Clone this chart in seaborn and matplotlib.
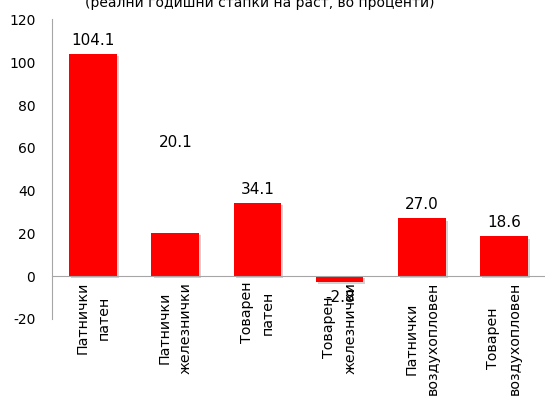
import matplotlib
matplotlib.use("Agg")
import matplotlib.pyplot as plt
import matplotlib.patheffects as pe
import seaborn as sns
import pandas as pd

# Real annual growth rates by transport type (percent)
categories = [
    "Патнички\nпатен",
    "Патнички\nжелезнички",
    "Товарен\nпатен",
    "Товарен\nжелезнички",
    "Патнички\nвоздухопловен",
    "Товарен\nвоздухопловен",
]
values = [104.1, 20.1, 34.1, -2.8, 27.0, 18.6]
y_ticks = [-20, 0, 20, 40, 60, 80, 100, 120]
subtitle = "(реални годишни стапки на раст, во проценти)"

sns.set_style("white")
plt.rcParams["font.family"] = ["DejaVu Sans"]

df = pd.DataFrame({"category": categories, "value": values})

fig = plt.figure(figsize=(5.45, 3.98), dpi=100)
ax = fig.add_axes([52 / 545, 1 - 319 / 398, 1 - 52 / 545, (319 - 19.5) / 398])

sns.barplot(data=df, x="category", y="value", color="#FF0000",
            saturation=1, width=0.58, ax=ax)

for patch in ax.patches:
    patch.set_edgecolor("none")
    patch.set_path_effects([
        pe.SimplePatchShadow(offset=(1.5, -1.5), shadow_rgbFace="#808080", alpha=0.35),
        pe.Normal(),
    ])

ax.set_xlim(-0.5, len(categories) - 0.5)
ax.set_ylim(-20, 120)
ax.set_yticks(y_ticks)
ax.set_yticklabels([str(t) for t in y_ticks])
ax.set_xlabel("")
ax.set_ylabel("")

for side in ["top", "right"]:
    ax.spines[side].set_visible(False)
ax.spines["left"].set_color("#A6A6A6")
ax.spines["bottom"].set_color("#A6A6A6")
ax.spines["bottom"].set_position(("data", 0))

ax.tick_params(axis="y", length=0, pad=12, labelsize=10, colors="black")
ax.tick_params(axis="x", length=0, pad=4, labelsize=10.3, colors="black")
for lbl in ax.get_xticklabels():
    lbl.set_rotation(90)
    lbl.set_ha("center")
    lbl.set_va("top")
    lbl.set_multialignment("center")
    lbl.set_linespacing(1.65)

# Value labels above (or below) each bar
extra_lift = {1: 77}
for i, v in enumerate(values):
    if v >= 0:
        ax.annotate(f"{v:.1f}", xy=(i, v), xytext=(0, 6 + extra_lift.get(i, 0)),
                    textcoords="offset pixels", ha="center", va="bottom",
                    fontsize=11, color="black")
    else:
        ax.annotate(f"{v:.1f}", xy=(i, v), xytext=(0, -8),
                    textcoords="offset pixels", ha="center", va="top",
                    fontsize=11, color="black", zorder=1)

fig.text(260 / 545, 1 - 7 / 398, subtitle, ha="center", va="baseline",
         fontsize=10, color="black")

fig.savefig("out.png", dpi=100)
